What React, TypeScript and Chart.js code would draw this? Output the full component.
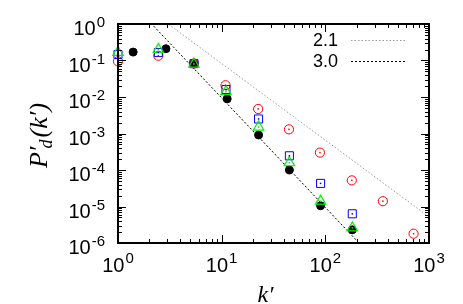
import { useEffect, useRef } from 'react';
import { Chart, registerables } from 'chart.js';
Chart.register(...registerables);

const kBlack = [1.4, 2.9, 5.4, 11.3, 22.7, 45, 90, 182];
const pBlack = [0.17, 0.21, 0.08, 0.0089, 0.00091, 1.0e-4, 1.05e-5, 2.3e-6];
const kRed = [1, 2.45, 5.4, 10.9, 22.5, 44.6, 88.7, 180, 359, 710];
const pRed = [0.095, 0.135, 0.083, 0.021, 0.0047, 0.0013, 0.0003, 5.2e-5, 1.4e-5, 1.8e-6];
const kBlue = [1, 2.45, 5.4, 11, 22.7, 45, 90, 182];
const pBlue = [0.146, 0.165, 0.082, 0.016, 0.0025, 0.000245, 4.3e-5, 6.3e-6];
const kGreen = [1, 2.45, 5.4, 11, 22.7, 45, 90, 182];
const pGreen = [0.168, 0.2, 0.08, 0.014, 0.0015, 0.000158, 1.4e-5, 2.6e-6];

const guideLabels = ['2.1', '3.0'];
const guide21K = [1, 1000];
const guide21P = [10.4, 5.2e-6];
const guide30K = [1, 1000];
const guide30P = [9.44, 9.44e-9];

const xDecades = [0, 1, 2, 3];
const yDecades = [-6, -5, -4, -3, -2, -1, 0];
const minorMults = [2, 3, 4, 5, 6, 7, 8, 9];

const xTitle = 'k′';
const yTitleParts = ['P′', 'd', '(k′)'];

const pts = (xs: number[], ys: number[]) => xs.map((x, i) => ({ x, y: ys[i] }));

const SANS = '"Liberation Sans", Arial, Helvetica, sans-serif';
const SERIF = '"Liberation Serif", "DejaVu Serif", serif';
const GREEN = '#00f000';

const decor = {
  id: 'decor',
  afterDatasetsDraw(chart: any) {
    const ctx = chart.ctx;
    const dotColors: Record<number, string> = { 1: '#ff0000', 2: '#0000ff', 3: GREEN };
    Object.keys(dotColors).forEach((k) => {
      const i = Number(k);
      const meta = chart.getDatasetMeta(i);
      ctx.save();
      ctx.fillStyle = dotColors[i];
      meta.data.forEach((el: any) => {
        ctx.fillRect(el.x - 0.75, el.y - 0.75, 1.5, 1.5);
      });
      ctx.restore();
    });
  },
  afterDraw(chart: any) {
    const ctx = chart.ctx;
    const a = chart.chartArea;
    const xs = chart.scales.x;
    const ys = chart.scales.y;
    ctx.save();
    ctx.strokeStyle = '#000';
    ctx.lineWidth = 2;
    ctx.strokeRect(a.left, a.top, a.right - a.left, a.bottom - a.top);
    ctx.lineWidth = 1;
    const tick = (x1: number, y1: number, x2: number, y2: number) => {
      ctx.beginPath();
      ctx.moveTo(x1, y1);
      ctx.lineTo(x2, y2);
      ctx.stroke();
    };
    xDecades.forEach((d) => {
      const px = Math.round(xs.getPixelForValue(Math.pow(10, d))) + 0.5;
      tick(px, a.bottom, px, a.bottom - 8);
      tick(px, a.top, px, a.top + 8);
      if (d < 3) {
        minorMults.forEach((m) => {
          const mx = Math.round(xs.getPixelForValue(m * Math.pow(10, d))) + 0.5;
          tick(mx, a.bottom, mx, a.bottom - 4);
          tick(mx, a.top, mx, a.top + 4);
        });
      }
    });
    yDecades.forEach((d) => {
      const py = Math.round(ys.getPixelForValue(Math.pow(10, d))) + 0.5;
      tick(a.left, py, a.left + 8, py);
      tick(a.right, py, a.right - 8, py);
      if (d < 0) {
        minorMults.forEach((m) => {
          const my = Math.round(ys.getPixelForValue(m * Math.pow(10, d))) + 0.5;
          tick(a.left, my, a.left + 4, my);
          tick(a.right, my, a.right - 4, my);
        });
      }
    });
    ctx.fillStyle = '#000';
    const baseFont = '20px ' + SANS;
    const supFont = '15px ' + SANS;
    xDecades.forEach((d) => {
      const px = xs.getPixelForValue(Math.pow(10, d));
      const sup = String(d);
      ctx.font = baseFont;
      const wb = ctx.measureText('10').width;
      ctx.font = supFont;
      const ws = ctx.measureText(sup).width;
      const left = px - (wb + ws + 1) / 2;
      ctx.textAlign = 'left';
      ctx.textBaseline = 'alphabetic';
      ctx.font = baseFont;
      ctx.fillText('10', left, 272);
      ctx.font = supFont;
      ctx.fillText(sup, left + wb + 1, 263);
    });
    yDecades.forEach((d) => {
      const py = ys.getPixelForValue(Math.pow(10, d));
      const sup = String(d);
      const xr = 105;
      ctx.font = supFont;
      const ws = ctx.measureText(sup).width;
      ctx.textAlign = 'left';
      ctx.fillText(sup, xr - ws, py + 3);
      ctx.font = baseFont;
      ctx.textAlign = 'right';
      ctx.fillText('10', xr - ws - 1, py + 11);
    });
    ctx.font = 'italic 24px ' + SERIF;
    ctx.textAlign = 'center';
    ctx.fillText(xTitle, (a.left + a.right) / 2 - 8, 302);

    ctx.save();
    ctx.translate(47, (a.top + a.bottom) / 2 + 2);
    ctx.rotate(-Math.PI / 2);
    const bigF = 'italic 26px ' + SERIF;
    const smallF = 'italic 18px ' + SERIF;
    ctx.font = bigF;
    const w0 = ctx.measureText(yTitleParts[0]).width;
    const w2 = ctx.measureText(yTitleParts[2]).width;
    ctx.font = smallF;
    const w1 = ctx.measureText(yTitleParts[1]).width;
    const total = w0 + w1 + w2;
    let cx = -total / 2;
    ctx.textAlign = 'left';
    ctx.font = bigF;
    ctx.fillText(yTitleParts[0], cx, 0);
    cx += w0 - 2;
    ctx.font = smallF;
    ctx.fillText(yTitleParts[1], cx, 5);
    cx += w1 + 2;
    ctx.font = bigF;
    ctx.fillText(yTitleParts[2], cx, 0);
    ctx.restore();

    ctx.font = '18px ' + SANS;
    ctx.textAlign = 'right';
    ctx.fillStyle = '#000';
    ctx.fillText(guideLabels[0], 338, 46);
    ctx.fillText(guideLabels[1], 338, 67);
    ctx.lineWidth = 1;
    ctx.setLineDash([1.5, 2]);
    ctx.strokeStyle = '#999999';
    tick(351, 40.5, 405, 40.5);
    ctx.setLineDash([2, 2]);
    ctx.strokeStyle = '#000';
    tick(351, 61.5, 405, 61.5);
    ctx.setLineDash([]);
    ctx.restore();
  },
};

export default function App() {
  const ref = useRef<HTMLCanvasElement>(null);
  useEffect(() => {
    if (!ref.current) return;
    const chart = new Chart(ref.current, {
      type: 'scatter',
      data: {
        datasets: [
          {
            data: pts(kBlack, pBlack),
            pointStyle: 'circle',
            pointRadius: 4,
            backgroundColor: '#000',
            borderColor: '#000',
            borderWidth: 1,
            clip: false,
            order: 4,
          },
          {
            data: pts(kRed, pRed),
            pointStyle: 'circle',
            pointRadius: 4.6,
            backgroundColor: 'rgba(0,0,0,0)',
            borderColor: '#ff0000',
            borderWidth: 1,
            clip: false,
            order: 3,
          },
          {
            data: pts(kBlue, pBlue),
            pointStyle: 'rect',
            pointRadius: 5.7,
            backgroundColor: 'rgba(0,0,0,0)',
            borderColor: '#0000ff',
            borderWidth: 1,
            clip: false,
            order: 2,
          },
          {
            data: pts(kGreen, pGreen),
            pointStyle: 'triangle',
            pointRadius: 6,
            backgroundColor: 'rgba(0,0,0,0)',
            borderColor: GREEN,
            borderWidth: 1.2,
            clip: false,
            order: 1,
          },
          {
            data: pts(guide21K, guide21P),
            showLine: true,
            pointRadius: 0,
            borderColor: '#999999',
            borderWidth: 1,
            borderDash: [1.5, 2],
            order: 6,
          },
          {
            data: pts(guide30K, guide30P),
            showLine: true,
            pointRadius: 0,
            borderColor: '#000',
            borderWidth: 1,
            borderDash: [2, 2],
            order: 5,
          },
        ],
      },
      options: {
        responsive: false,
        animation: false,
        events: [],
        layout: { padding: { left: 118, right: 34, top: 24, bottom: 61 } },
        plugins: { legend: { display: false }, tooltip: { enabled: false } },
        scales: {
          x: { type: 'logarithmic', min: 1, max: 1000, display: false },
          y: { type: 'logarithmic', min: 1e-6, max: 1, display: false },
        },
      },
      plugins: [decor],
    } as any);
    return () => chart.destroy();
  }, []);
  return (
    <div style={{ position: 'absolute', left: 0, top: 0, width: 463, height: 304, background: '#fff' }}>
      <canvas ref={ref} width={463} height={304} />
    </div>
  );
}
